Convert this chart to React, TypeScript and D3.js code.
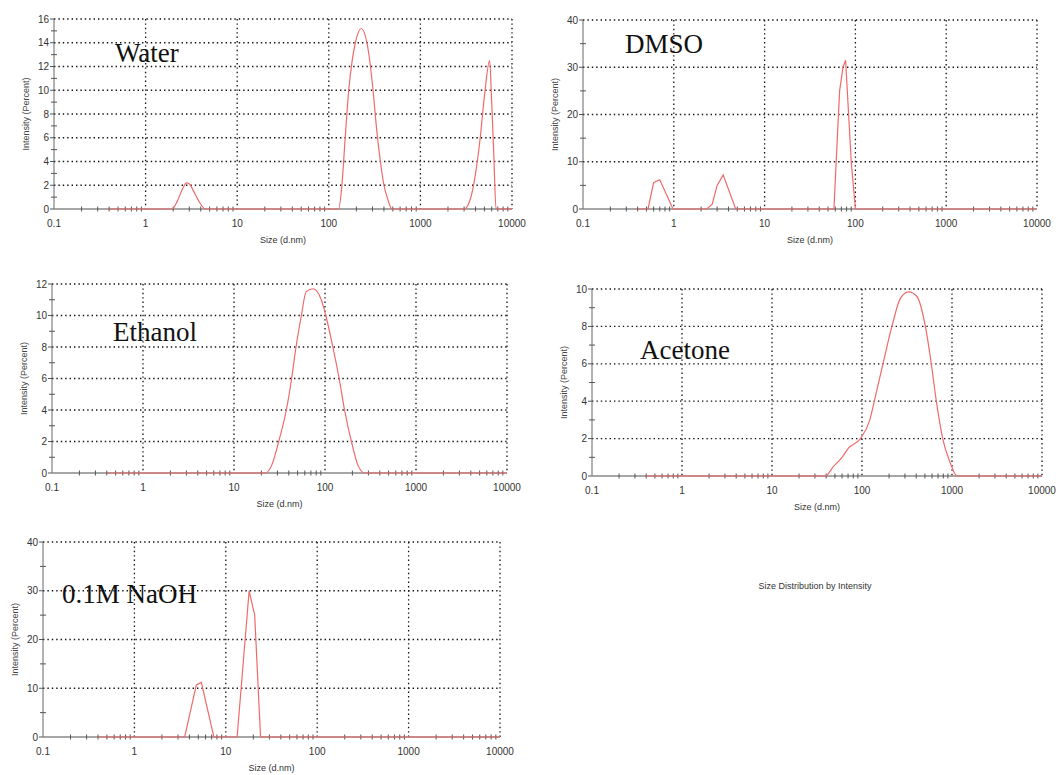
import React, { useEffect, useRef } from 'react';
import * as d3 from 'd3';

// size (d.nm) / intensity (%)
const water: [number, number][] = [
  [0.4, 0], [1.95, 0], [2.2, 0.6], [2.5, 1.6], [2.8, 2.2], [3.0, 2.1], [3.5, 1.2], [4.0, 0.4], [4.5, 0],
  [128, 0], [139, 2], [151, 6], [165, 10], [180, 12.5], [195, 14], [226, 15.2], [261, 14], [285, 12],
  [304, 10], [335, 6.5], [366, 4], [400, 2], [433, 1], [490, 0],
  [3000, 0], [3500, 0.8], [4000, 3], [4500, 6], [5000, 9.5], [5700, 12.5], [6000, 9], [6300, 5], [6700, 0], [10000, 0],
];
const dmso: [number, number][] = [
  [0.4, 0], [0.52, 0], [0.6, 5.6], [0.7, 6.2], [0.98, 0], [2.3, 0], [2.65, 1], [3.0, 5], [3.5, 7.2], [4.8, 0],
  [58, 0], [67, 25], [73, 30], [78, 31.5], [90, 10], [100, 0], [10000, 0],
];
const ethanol: [number, number][] = [
  [0.4, 0], [22, 0], [26, 0.5], [31, 2], [37.6, 4], [43, 6], [48, 8], [55, 10], [62, 11.5], [74, 11.7],
  [91, 11], [102, 10], [122, 8], [143, 6], [164, 4], [195, 2], [230, 0.5], [273, 0], [10000, 0],
];
const acetone: [number, number][] = [
  [0.4, 0], [39, 0], [48, 0.5], [60, 1], [71, 1.5], [96, 2], [122, 3], [137, 4], [171, 6], [215, 8],
  [267, 9.5], [330, 9.85], [408, 9.6], [506, 8], [589, 6], [670, 4], [788, 2], [957, 0.7], [1137, 0], [10000, 0],
];
const naoh: [number, number][] = [
  [0.4, 0], [3.55, 0], [4.76, 10.7], [5.4, 11.2], [7.4, 0], [13.3, 0], [18, 30], [20.7, 25], [24, 0], [10000, 0],
];

const xTicks = [0.1, 1, 10, 100, 1000, 10000];
const xTickLabels = ['0.1', '1', '10', '100', '1000', '10000'];

const panels = [
  { title: 'Water', data: water, smooth: true, yMax: 16, yStep: 2, box: [54, 19, 512, 209], tpos: [115, 62] },
  { title: 'DMSO', data: dmso, smooth: false, yMax: 40, yStep: 10, box: [583, 20, 1037, 209], tpos: [625, 53] },
  { title: 'Ethanol', data: ethanol, smooth: true, yMax: 12, yStep: 2, box: [52, 284, 507, 473], tpos: [113, 341] },
  { title: 'Acetone', data: acetone, smooth: true, yMax: 10, yStep: 2, box: [592, 289, 1042, 476], tpos: [640, 359] },
  { title: '0.1M NaOH', data: naoh, smooth: false, yMax: 40, yStep: 10, box: [43, 542, 500, 737], tpos: [62, 603] },
];

export default function App() {
  const ref = useRef<SVGSVGElement>(null);

  useEffect(() => {
    const svg = d3.select(ref.current);
    svg.selectAll('*').remove();
    const sans = 'Liberation Sans, Arial, sans-serif';

    panels.forEach((p) => {
      const [x0, y0, x1, y1] = p.box;
      const x = d3.scaleLog().domain([0.1, 10000]).range([x0, x1]);
      const y = d3.scaleLinear().domain([0, p.yMax]).range([y1, y0]);
      const g = svg.append('g');
      const yMajor = d3.range(0, p.yMax + 0.001, p.yStep);
      const yMinor = d3.range(p.yStep / 2, p.yMax, p.yStep);
      const xMinor: number[] = [];
      for (let d = 0.1; d < 10000; d *= 10) for (let k = 2; k <= 9; k++) xMinor.push(d * k);

      // dotted grid
      g.selectAll('.hg').data(yMajor.filter((v) => v > 0)).enter().append('line')
        .attr('x1', x0).attr('x2', x1).attr('y1', (d) => y(d)).attr('y2', (d) => y(d))
        .attr('stroke', '#111').attr('stroke-dasharray', '1.4,3').attr('stroke-width', 1.3);
      g.selectAll('.vg').data(xTicks.slice(1)).enter().append('line')
        .attr('x1', (d) => x(d)).attr('x2', (d) => x(d)).attr('y1', y0).attr('y2', y1)
        .attr('stroke', '#111').attr('stroke-dasharray', '1.4,3').attr('stroke-width', 1.3);

      // axes
      g.append('line').attr('x1', x0).attr('x2', x0).attr('y1', y0).attr('y2', y1)
        .attr('stroke', '#666').attr('stroke-width', 1);
      g.append('line').attr('x1', x0).attr('x2', x1).attr('y1', y1).attr('y2', y1)
        .attr('stroke', '#888').attr('stroke-width', 1.6);
      g.selectAll('.ymt').data(yMajor).enter().append('line')
        .attr('x1', x0 - 4).attr('x2', x0).attr('y1', (d) => y(d)).attr('y2', (d) => y(d))
        .attr('stroke', '#555');
      g.selectAll('.ymn').data(yMinor).enter().append('line')
        .attr('x1', x0 - 3).attr('x2', x0 + 3).attr('y1', (d) => y(d)).attr('y2', (d) => y(d))
        .attr('stroke', '#555');
      g.selectAll('.xmn').data(xMinor).enter().append('line')
        .attr('x1', (d) => x(d)).attr('x2', (d) => x(d)).attr('y1', y1 - 2.5).attr('y2', y1 + 2.5)
        .attr('stroke', '#555');

      // tick labels
      g.selectAll('.yl').data(yMajor).enter().append('text')
        .attr('x', x0 - 5).attr('y', (d) => y(d) + 3.5).attr('text-anchor', 'end')
        .attr('font-family', sans).attr('font-size', 10).attr('fill', '#333')
        .text((d) => d3.format('d')(d));
      g.selectAll('.xl').data(xTicks).enter().append('text')
        .attr('x', (d) => x(d)).attr('y', y1 + 18).attr('text-anchor', 'middle')
        .attr('font-family', sans).attr('font-size', 10).attr('fill', '#333')
        .text((d, i) => xTickLabels[i]);

      g.append('text').attr('x', (x0 + x1) / 2).attr('y', y1 + 34).attr('text-anchor', 'middle')
        .attr('font-family', sans).attr('font-size', 9).attr('fill', '#333').text('Size (d.nm)');
      g.append('text')
        .attr('transform', `translate(${x0 - 25},${(y0 + y1) / 2}) rotate(-90)`)
        .attr('text-anchor', 'middle').attr('font-family', sans).attr('font-size', 9)
        .attr('fill', '#444').text('Intensity (Percent)');

      // distribution curve
      const line = d3.line<[number, number]>()
        .x((d) => x(d[0])).y((d) => y(d[1]))
        .curve(p.smooth ? d3.curveMonotoneX : d3.curveLinear);
      g.append('path').datum(p.data).attr('d', line)
        .attr('fill', 'none').attr('stroke', '#f06a6a').attr('stroke-width', 1.2);

      g.append('text').attr('x', p.tpos[0]).attr('y', p.tpos[1])
        .attr('font-family', 'Liberation Serif, Times New Roman, serif').attr('font-size', 27)
        .attr('fill', '#111').text(p.title);
    });

    svg.append('text').attr('x', 815).attr('y', 589).attr('text-anchor', 'middle')
      .attr('font-family', sans).attr('font-size', 9).attr('fill', '#333')
      .text('Size Distribution by Intensity');
  }, []);

  return (
    <svg ref={ref} width={1059} height={775}
      style={{ position: 'absolute', left: 0, top: 0, background: '#fff' }} />
  );
}
